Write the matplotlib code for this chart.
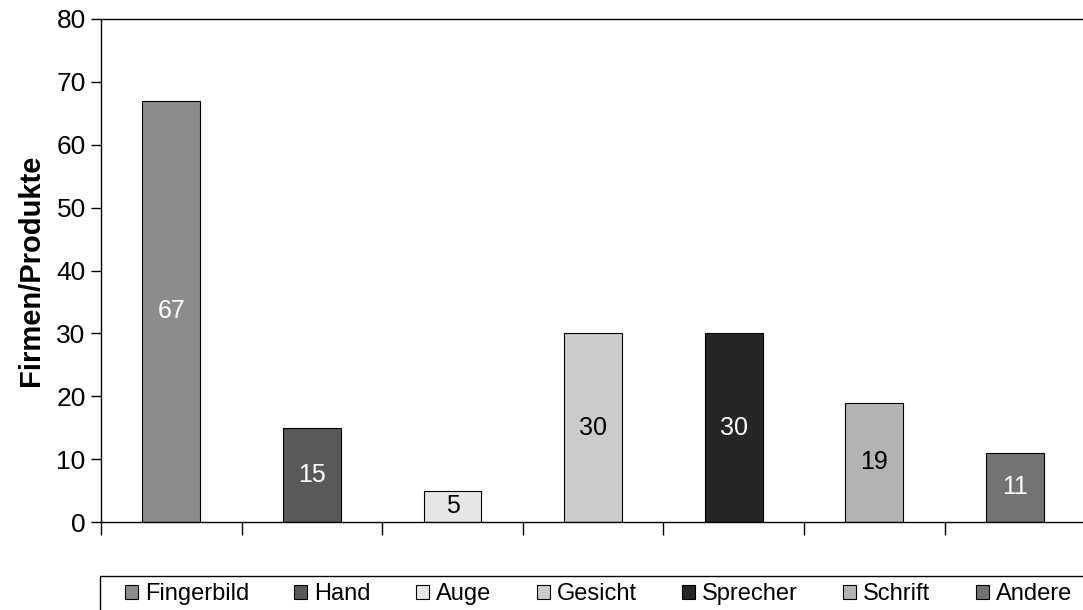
import numpy as np
import matplotlib
matplotlib.use("Agg")
import matplotlib.pyplot as plt
from matplotlib.patches import Patch, Rectangle

# Data
categories = ["Fingerbild", "Hand", "Auge", "Gesicht", "Sprecher", "Schrift", "Andere"]
values = [67, 15, 5, 30, 30, 19, 11]
bar_colors = ["#8c8c8c", "#595959", "#e6e6e6", "#cccccc", "#262626", "#b3b3b3", "#737373"]
label_colors = ["white", "white", "black", "black", "white", "black", "white"]
y_ticks = [0, 10, 20, 30, 40, 50, 60, 70, 80]

plt.rcParams["font.family"] = ["Liberation Sans", "DejaVu Sans"]

W, H = 1083, 610
fig = plt.figure(figsize=(W / 100, H / 100), dpi=100)
ax = fig.add_axes([101 / W, 88 / H, 1 - 101 / W + 0.002, (522 - 19) / H])

x = np.arange(len(categories))
ax.bar(x, values, width=0.41, color=bar_colors, edgecolor="black", linewidth=0.8, zorder=2)

# value labels in the middle of each bar
for xi, v, c in zip(x, values, label_colors):
    ax.text(xi, v / 2, str(v), ha="center", va="center", fontsize=18, color=c, zorder=3)

ax.set_xlim(-0.5, len(categories) - 0.5)
ax.set_ylim(0, 80)
ax.set_yticks(y_ticks)
ax.tick_params(axis="y", direction="out", length=7, width=1, labelsize=19, pad=4)

# x ticks at category borders, no labels
ax.set_xticks(np.arange(-0.5, len(categories), 1.0))
ax.set_xticklabels([])
ax.tick_params(axis="x", direction="out", length=9, width=1)

for side in ["left", "bottom", "top"]:
    ax.spines[side].set_linewidth(1)
    ax.spines[side].set_color("black")
ax.spines["right"].set_visible(False)

ax.set_ylabel("Firmen/Produkte", fontsize=21, fontweight="bold", labelpad=8)

# legend entries spread across the box, frame drawn separately
handles = [Patch(facecolor=c, edgecolor="black", linewidth=0.8) for c in bar_colors]
leg = fig.legend(handles, categories, loc="center left",
                 bbox_to_anchor=(125 / W, 1 - 594 / H, (1072 - 125) / W, 0.0),
                 mode="expand", ncol=7, fontsize=17, frameon=False,
                 handlelength=0.55, handleheight=0.55, handletextpad=0.3,
                 borderpad=0.0, borderaxespad=0.0)

fig.patches.append(Rectangle((100 / W, -0.02), 1.0, 1 - 576 / H + 0.02,
                             transform=fig.transFigure, facecolor="none",
                             edgecolor="black", linewidth=1))

fig.savefig("out.png", dpi=100)
